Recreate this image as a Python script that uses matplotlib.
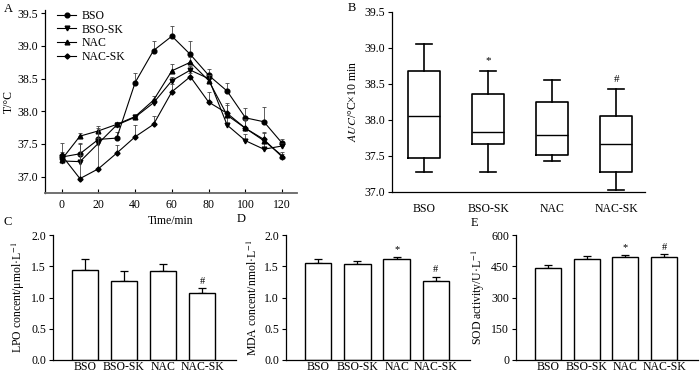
import matplotlib
matplotlib.use("Agg")
import matplotlib.pyplot as plt
from matplotlib.lines import Line2D

plt.rcParams['font.family'] = ['Liberation Serif', 'DejaVu Serif']
plt.rcParams['mathtext.fontset'] = 'stix'
plt.rcParams['font.size'] = 8.5

# ── Panel A: body temperature over time ───────────────────────────────────────
times = [0, 10, 20, 30, 40, 50, 60, 70, 80, 90, 100, 110, 120]
bso = [37.30, 37.35, 37.57, 37.59, 38.44, 38.93, 39.15, 38.87, 38.55, 38.31, 37.90, 37.84, 37.51]
bso_err = [0.22, 0.15, 0.12, 0.10, 0.15, 0.15, 0.15, 0.20, 0.10, 0.13, 0.15, 0.22, 0.06]
bso_sk = [37.24, 37.23, 37.51, 37.79, 37.91, 38.13, 38.47, 38.63, 38.50, 37.79, 37.55, 37.42, 37.47]
bso_sk_err = [0.08, 0.10, 0.08, 0.05, 0.04, 0.06, 0.06, 0.06, 0.06, 0.12, 0.10, 0.10, 0.05]
nac = [37.26, 37.62, 37.70, 37.80, 37.92, 38.17, 38.62, 38.75, 38.47, 37.94, 37.74, 37.55, 37.32]
nac_err = [0.06, 0.05, 0.08, 0.04, 0.04, 0.06, 0.10, 0.08, 0.08, 0.15, 0.12, 0.12, 0.06]
nac_sk = [37.33, 36.97, 37.12, 37.36, 37.61, 37.80, 38.30, 38.53, 38.14, 37.97, 37.74, 37.57, 37.30]
nac_sk_err = [0.05, 0.55, 0.63, 0.12, 0.18, 0.13, 0.12, 0.06, 0.15, 0.15, 0.14, 0.12, 0.04]

groups = ["BSO", "BSO-SK", "NAC", "NAC-SK"]

# ── Panel B: AUC box plot stats ───────────────────────────────────────────────
auc_lo = [37.28, 37.28, 37.42, 37.03]
auc_q1 = [37.47, 37.66, 37.51, 37.27]
auc_med = [38.05, 37.83, 37.79, 37.66]
auc_q3 = [38.68, 38.35, 38.25, 38.05]
auc_hi = [39.05, 38.68, 38.55, 38.42]
auc_marks = ["", "*", "", "#"]

# ── Panels C-E: bar charts ────────────────────────────────────────────────────
lpo = [1.44, 1.26, 1.42, 1.08]
lpo_err = [0.18, 0.16, 0.11, 0.07]
lpo_marks = ["", "", "", "#"]
mda = [1.56, 1.53, 1.61, 1.27]
mda_err = [0.06, 0.05, 0.04, 0.06]
mda_marks = ["", "", "*", "#"]
sod = [443, 487, 493, 495]
sod_err = [11, 12, 11, 13]
sod_marks = ["", "", "*", "#"]

fig = plt.figure(figsize=(7.0, 3.75), dpi=100)


def clean(ax):
    ax.spines['top'].set_visible(False)
    ax.spines['right'].set_visible(False)
    for s in ('left', 'bottom'):
        ax.spines[s].set_linewidth(0.9)


# Panel A
axA = fig.add_axes([45/700, 1-193/375, 252/700, 183/375])
series = [(bso, bso_err, 'o'), (bso_sk, bso_sk_err, 'v'),
          (nac, nac_err, '^'), (nac_sk, nac_sk_err, 'D')]
handles = []
for (vals, err, mk), name in zip(series, groups):
    axA.errorbar(times, vals, yerr=[[0]*len(err), err], fmt='none',
                 ecolor='#444444', elinewidth=0.6, capsize=1.5, capthick=0.6)
    ms = 2.6 if mk == 'D' else 3.4
    axA.plot(times, vals, color='black', lw=0.8, marker=mk, ms=ms,
             mfc='black', mec='black')
    handles.append(Line2D([], [], color='black', lw=0.8, marker=mk, ms=ms))
axA.set_xlim(-9, 128)
axA.set_ylim(36.75, 39.55)
axA.set_xticks([0, 20, 40, 60, 80, 100, 120])
axA.set_yticks([37.0, 37.5, 38.0, 38.5, 39.0, 39.5])
axA.set_yticklabels([f"{v:.1f}" for v in [37.0, 37.5, 38.0, 38.5, 39.0, 39.5]])
axA.tick_params(axis='x', direction='in', length=3, pad=4)
axA.tick_params(axis='y', direction='out', length=3, pad=2)
axA.set_xlabel("Time/min", labelpad=3)
axA.set_ylabel("T/°C", labelpad=2)
axA.legend(handles, groups, loc='upper left', bbox_to_anchor=(0.02, 1.04),
           frameon=False, handlelength=1.6, labelspacing=0.15,
           handletextpad=0.5, borderaxespad=0.2)
clean(axA)
axA.spines['bottom'].set_color('#666666')
axA.spines['bottom'].set_linewidth(1.3)

# Panel B
axB = fig.add_axes([392/700, 1-191.7/375, 253/700, 180/375])
stats = []
for i, name in enumerate(groups):
    stats.append(dict(label=name, whislo=auc_lo[i], q1=auc_q1[i], med=auc_med[i],
                      q3=auc_q3[i], whishi=auc_hi[i], fliers=[]))
axB.bxp(stats, positions=range(len(groups)), widths=0.5, showfliers=False,
        boxprops=dict(color='black', lw=1.2),
        whiskerprops=dict(color='black', lw=1.2),
        capprops=dict(color='black', lw=1.2),
        medianprops=dict(color='black', lw=1.0))
for i, m in enumerate(auc_marks):
    if m:
        axB.text(i, auc_hi[i] + 0.08, m, ha='center', va='bottom', fontsize=8)
axB.set_xlim(-0.5, 3.45)
axB.set_ylim(37.0, 39.5)
axB.set_yticks([37.0, 37.5, 38.0, 38.5, 39.0, 39.5])
axB.set_yticklabels([f"{v:.1f}" for v in [37.0, 37.5, 38.0, 38.5, 39.0, 39.5]])
axB.set_xticks(range(len(groups)))
axB.set_xticklabels(groups)
axB.tick_params(axis='x', length=0, pad=8)
axB.tick_params(axis='y', direction='out', length=3, pad=2)
axB.set_ylabel(r"$\it{AUC}$/°C×10 min", labelpad=4)
clean(axB)


def bar_panel(rect, vals, errs, marks, ylim, yticks, fmt, ylabel, mark_pad):
    ax = fig.add_axes(rect)
    x = range(len(groups))
    ax.bar(x, vals, width=0.67, color='white', edgecolor='black', lw=1.0,
           zorder=2)
    ax.errorbar(x, vals, yerr=[[0]*len(errs), errs], fmt='none',
                ecolor='black', elinewidth=0.9, capsize=3, capthick=0.9,
                zorder=1)
    for i, m in enumerate(marks):
        if m:
            ax.text(i, vals[i] + errs[i] + mark_pad, m, ha='center',
                    va='bottom', fontsize=7.5)
    ax.set_xlim(-0.82, 3.87)
    ax.set_ylim(*ylim)
    ax.set_yticks(yticks)
    ax.set_yticklabels([fmt.format(v) for v in yticks])
    ax.set_xticks(list(x))
    ax.set_xticklabels(groups)
    ax.tick_params(axis='x', length=0, pad=1)
    ax.tick_params(axis='y', direction='out', length=3, pad=2)
    ax.set_ylabel(ylabel, labelpad=3)
    clean(ax)
    return ax


bar_panel([53/700, 15/375, 183/700, 125/375], lpo, lpo_err, lpo_marks,
          (0, 2.0), [0.0, 0.5, 1.0, 1.5, 2.0], "{:.1f}",
          r"LPO concent/μmol·L$^{-1}$", 0.04)
bar_panel([286/700, 15/375, 184/700, 125/375], mda, mda_err, mda_marks,
          (0, 2.0), [0.0, 0.5, 1.0, 1.5, 2.0], "{:.1f}",
          r"MDA concent/nmol·L$^{-1}$", 0.04)
bar_panel([516/700, 15/375, 182/700, 125/375], sod, sod_err, sod_marks,
          (0, 600), [0, 150, 300, 450, 600], "{:d}",
          r"SOD activity/U·L$^{-1}$", 12)

# Panel letters
for lbl, px, py in [("A", 8, 9), ("B", 352, 8), ("C", 8, 222),
                    ("D", 241, 219), ("E", 474, 223)]:
    fig.text(px/700, 1-py/375, lbl, ha='center', va='center', fontsize=9)

fig.savefig("out.png", dpi=100)
